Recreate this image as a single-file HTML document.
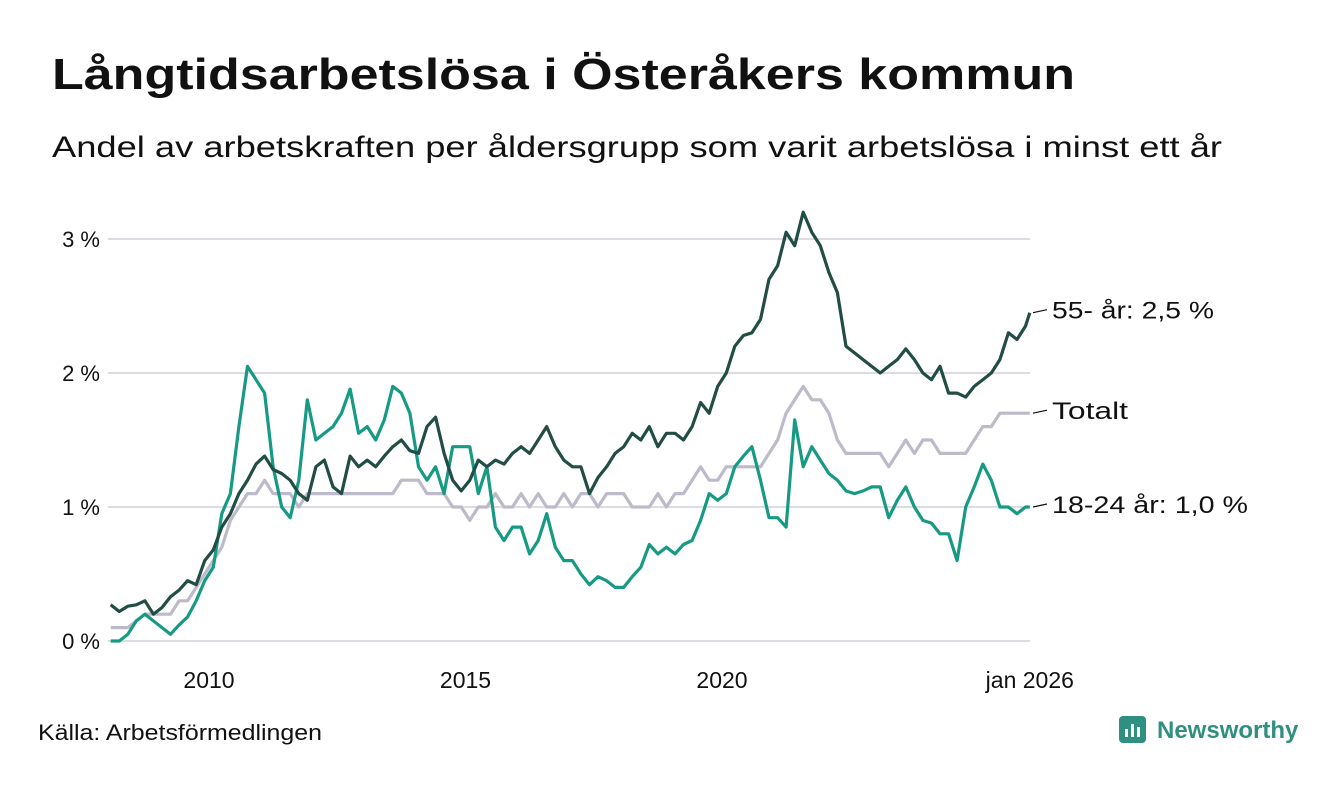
<!DOCTYPE html>
<html><head><meta charset="utf-8">
<style>
body{margin:0;background:#fff;width:1340px;height:780px;overflow:hidden;font-family:"Liberation Sans",sans-serif;}
</style></head>
<body>
<svg id="chart" width="1340" height="780" xmlns="http://www.w3.org/2000/svg" style="font-family:'Liberation Sans',sans-serif">
<text x="52" y="89" font-size="44" font-weight="bold" fill="#111" textLength="1023" lengthAdjust="spacingAndGlyphs">Långtidsarbetslösa i Österåkers kommun</text>
<text x="52" y="157" font-size="30" fill="#111" textLength="1170" lengthAdjust="spacingAndGlyphs">Andel av arbetskraften per åldersgrupp som varit arbetslösa i minst ett år</text>
<g id="grid"></g><g id="series"></g><g id="labels"></g>
<text x="38" y="740" font-size="22" fill="#111" textLength="284" lengthAdjust="spacingAndGlyphs">Källa: Arbetsförmedlingen</text>
<g>
<rect x="1119" y="716" width="27" height="27" rx="4" fill="#2f8f80"/>
<rect x="1125" y="729" width="3" height="8" fill="#fff"/><rect x="1131" y="724" width="3" height="13" fill="#fff"/><rect x="1137" y="727" width="3" height="10" fill="#fff"/>
<text x="1157" y="738" font-size="24" font-weight="bold" fill="#2f8f80">Newsworthy</text>
</g>
</svg>
<script>
const yTicks=[0,1,2,3];
const yTickLabels=["0 %","1 %","2 %","3 %"];
const xTicks=[2010,2015,2020,2026];
const xTickLabels=["2010","2015","2020","jan 2026"];
const startYear=2008,endYear=2025;
const age55=[0.27,0.22,0.26,0.27,0.3,0.2, 0.25,0.33,0.38,0.45,0.42,0.6, 0.68,0.85,0.95,1.1,1.2,1.32, 1.38,1.28,1.25,1.2,1.1,1.05, 1.3,1.35,1.15,1.1,1.38,1.3, 1.35,1.3,1.38,1.45,1.5,1.42, 1.4,1.6,1.67,1.4,1.2,1.12, 1.2,1.35,1.3,1.35,1.32,1.4, 1.45,1.4,1.5,1.6,1.45,1.35, 1.3,1.3,1.1,1.22,1.3,1.4, 1.45,1.55,1.5,1.6,1.45,1.55, 1.55,1.5,1.6,1.78,1.7,1.9, 2.0,2.2,2.28,2.3,2.4,2.7, 2.8,3.05,2.95,3.2,3.05,2.95, 2.75,2.6,2.2,2.15,2.1,2.05, 2.0,2.05,2.1,2.18,2.1,2.0, 1.95,2.05,1.85,1.85,1.82,1.9, 1.95,2.0,2.1,2.3,2.25,2.35, 2.45];
const age18=[0,0,0.05,0.15,0.2,0.15, 0.1,0.05,0.12,0.18,0.3,0.45, 0.55,0.95,1.1,1.6,2.05,1.95, 1.85,1.3,1.0,0.92,1.2,1.8, 1.5,1.55,1.6,1.7,1.88,1.55, 1.6,1.5,1.65,1.9,1.85,1.7, 1.3,1.2,1.3,1.1,1.45,1.45, 1.45,1.1,1.3,0.85,0.75,0.85, 0.85,0.65,0.75,0.95,0.7,0.6, 0.6,0.5,0.42,0.48,0.45,0.4, 0.4,0.48,0.55,0.72,0.65,0.7, 0.65,0.72,0.75,0.9,1.1,1.05, 1.1,1.3,1.38,1.45,1.2,0.92, 0.92,0.85,1.65,1.3,1.45,1.35, 1.25,1.2,1.12,1.1,1.12,1.15, 1.15,0.92,1.05,1.15,1.0,0.9, 0.88,0.8,0.8,0.6,1.0,1.15, 1.32,1.2,1.0,1.0,0.95,1.0, 1.0];
const total=[0.1,0.1,0.1,0.15,0.2,0.2, 0.2,0.2,0.3,0.3,0.4,0.5, 0.6,0.7,0.9,1.0,1.1,1.1, 1.2,1.1,1.1,1.1,1.0,1.1, 1.1,1.1,1.1,1.1,1.1,1.1, 1.1,1.1,1.1,1.1,1.2,1.2, 1.2,1.1,1.1,1.1,1.0,1.0, 0.9,1.0,1.0,1.1,1.0,1.0, 1.1,1.0,1.1,1.0,1.0,1.1, 1.0,1.1,1.1,1.0,1.1,1.1, 1.1,1.0,1.0,1.0,1.1,1.0, 1.1,1.1,1.2,1.3,1.2,1.2, 1.3,1.3,1.3,1.3,1.3,1.4, 1.5,1.7,1.8,1.9,1.8,1.8, 1.7,1.5,1.4,1.4,1.4,1.4, 1.4,1.3,1.4,1.5,1.4,1.5, 1.5,1.4,1.4,1.4,1.4,1.5, 1.6,1.6,1.7,1.7,1.7,1.7, 1.7];
const dates=[];
for(let y=startYear;y<=endYear;y++)for(let k=0;k<6;k++)dates.push(y+(2*k+1)/12);
dates.push(2026);
const xS=d=>209+(d-2010)*51.3;
const yS=v=>641-v*134;
const NS="http://www.w3.org/2000/svg";
function mk(tag,attrs,parent,text){const e=document.createElementNS(NS,tag);for(const k in attrs)e.setAttribute(k,attrs[k]);if(text!=null)e.textContent=text;document.getElementById(parent).appendChild(e);return e;}
yTicks.forEach((t,i)=>{
 const l=mk('line',{x1:108,x2:1030,y1:yS(t),y2:yS(t),stroke:'#dcdce2','stroke-width':2},'grid');
 
 
 const tx=mk('text',{x:100,y:yS(t)+8,'text-anchor':'end','font-size':22,fill:'#111'},'grid',yTickLabels[i]);
 
 
});
xTicks.forEach((t,i)=>{
 const tx=mk('text',{x:xS(t),y:688,'text-anchor':'middle','font-size':23,fill:'#111'},'grid',xTickLabels[i]);
 
 
});
const series=[[total,'#bdbacb','series-totalt','Totalt',76],[age18,'#179a84','series-18-24','18-24 år: ',196],[age55,'#224d44','series-55','55- år: ',162]];
series.forEach(([vals,col,name,lab,len])=>{
 const d=vals.map((v,i)=>(i?'L':'M')+xS(dates[i]).toFixed(1)+','+yS(v).toFixed(1)).join('');
 const p=mk('path',{d:d,fill:'none',stroke:col,'stroke-width':3.2,'stroke-linejoin':'round'},'series');
 
 
 const last=vals[vals.length-1];
 let ly=yS(last);
 const l=mk('line',{x1:1033,x2:1047,y1:ly,y2:ly-3,stroke:'#111','stroke-width':1.2},'labels');
 
 
 const txt=lab==='Totalt'?'Totalt':lab+last.toFixed(1).replace('.',',')+' %';
 const t=mk('text',{x:1052,y:ly+6,'font-size':24,fill:'#111',textLength:len,lengthAdjust:'spacingAndGlyphs'},'labels',txt);
 
 
});
</script>
</body></html>
